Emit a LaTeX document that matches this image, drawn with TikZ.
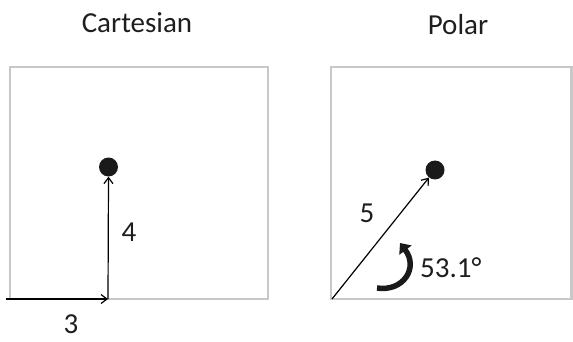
\documentclass[tikz,border=0pt]{standalone}
\usepackage{fontspec}
\setmainfont{Carlito}
\usetikzlibrary{arrows.meta}
\definecolor{boxgray}{HTML}{C8C8C8}
\definecolor{txt}{HTML}{1E1E1E}
\definecolor{dotc}{HTML}{1A1A1A}
\begin{document}
\begin{tikzpicture}[x=1pt,y=-1pt,
  box/.style={draw=boxgray, line width=2.5pt},
  lbl/.style={font=\fontsize{29}{34}\selectfont, text=txt, inner sep=0pt},
  vec/.style={line width=1.2pt, draw=black, -{Straight Barb[length=6pt,width=9pt]}},
  dotnode/.style={circle, fill=dotc, minimum size=19pt, inner sep=0pt},
  turn/.style={line width=5.5pt, draw=dotc, -{Triangle[length=9pt,width=15pt]}}]
\useasboundingbox (0,0) rectangle (573,342);
% titles
\node[lbl] (tc) at (137,23) {Cartesian};
\node[lbl] (tp) at (458,25) {Polar};
% boxes
\draw[box] (10,67) rectangle (268,299);
\draw[box] (331,67) rectangle (571.5,299);
% Cartesian
\coordinate (co) at (6,299);
\coordinate (cx) at (108,299);
\node[dotnode] (cd) at (108.5,167) {};
\draw[vec] (co) -- (cx);
\draw[vec] (cx) -- (cd.south);
\node[lbl] (l4) at (129,232) {4};
\node[lbl] (l3) at (71,324) {3};
% Polar
\coordinate (po) at (332,299);
\node[dotnode] (pd) at (435,170) {};
\draw[vec] (po) -- (pd);
\node[lbl] (l5) at (367,213) {5};
\coordinate (ts) at (377,288);
\coordinate (te) at (400,243);
\draw[turn] (ts) .. controls (403,292) and (419,268) .. (te);
\node[lbl, anchor=west] (la) at (420,268) {53.1°};
\end{tikzpicture}
\end{document}
